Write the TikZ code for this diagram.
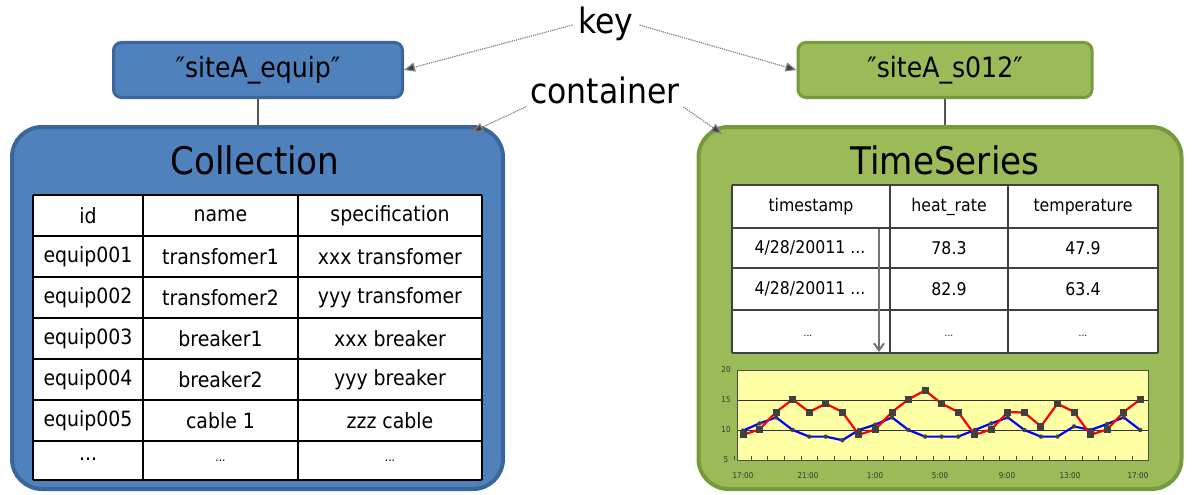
\documentclass[tikz,border=0pt]{standalone}
\usepackage{fontspec}
\setmainfont{DejaVu Sans Condensed}
\newfontfamily\tblfont{DejaVu Sans Condensed}
\usetikzlibrary{arrows.meta}
\definecolor{bfill}{HTML}{4F81BD}
\definecolor{bdraw}{HTML}{3A669C}
\definecolor{gfill}{HTML}{9BBB59}
\definecolor{gdraw}{HTML}{789A3E}
\definecolor{plotbg}{HTML}{FFFFA6}
\definecolor{linkgray}{HTML}{555555}
\definecolor{redser}{HTML}{FF0000}
\definecolor{blueser}{HTML}{0000FF}
\tikzset{
  keybox/.style={rounded corners=8pt, line width=3pt, minimum width=289pt, minimum height=55pt, inner sep=0pt, font=\fontsize{28}{28}\selectfont},
  contbox/.style={rounded corners=30pt, line width=4pt, inner sep=0pt},
  lbl/.style={inner sep=2pt, font=\fontsize{35}{35}\selectfont},
  ttl/.style={inner sep=0pt, font=\fontsize{38}{38}\selectfont},
  dotarrow/.style={densely dotted, line width=1.2pt, draw=gray, -{Triangle[length=11pt,width=9pt,fill=black!75]}},
  stem/.style={line width=2.5pt, draw=linkgray},
  cellL/.style={inner sep=0pt, font=\fontsize{21}{21}\selectfont},
  cellR/.style={inner sep=0pt, font=\tblfont\fontsize{17.5}{17.5}\selectfont},
  axlbl/.style={inner sep=0pt, font=\fontsize{8}{8}\selectfont, text=black!80},
  gridl/.style={line width=1pt, draw=black!80},
}
\begin{document}
\begin{tikzpicture}[x=1pt,y=-1pt]
\useasboundingbox (0,0) rectangle (1192,495);

% containers
\node[contbox, fill=bfill, draw=bdraw, minimum width=491pt, minimum height=362pt] (c1) at (257.5,308) {};
\node[contbox, fill=gfill, draw=gdraw, minimum width=483pt, minimum height=362pt] (c2) at (940,308) {};

% key boxes
\node[keybox, fill=bfill, draw=bdraw] (k1) at (258,70) {″siteA\_equip″};
\node[keybox, fill=gfill, draw=gdraw, minimum width=294pt] (k2) at (945,70) {″siteA\_s012″};

% stems
\draw[stem] (k1.south) -- (k1.south |- c1.north);
\draw[stem] (k2.south) -- (k2.south |- c2.north);

% labels
\node[lbl] (key) at (606,24) {key};
\node[lbl] (cont) at (605,90) {container};
\coordinate (c1tip) at (472,132);
\coordinate (c2tip) at (722,134);
\draw[dotarrow, shorten <=4pt] (key.west) -- (k1.east);
\draw[dotarrow, shorten <=4pt] (key.east) -- (k2.west);
\draw[dotarrow, shorten <=2pt] (cont.south west) -- (c1tip);
\draw[dotarrow, shorten <=2pt] (cont.south east) -- (c2tip);

% titles
\node[ttl] (t1) at (255,160) {Collection};
\node[ttl] (t2) at (945,160) {TimeSeries};

% left table
\fill[white] (33,195) rectangle (482,480);
\foreach \y in {195,236,277,318,359,400,441,480} \draw[line width=1.5pt] (33,\y) -- (482,\y);
\foreach \x in {33,143,298,482} \draw[line width=1.5pt] (\x,195) -- (\x,480);
\foreach \r/\a/\b/\c in {0/id/name/specification,
  1/equip001/transfomer1/xxx transfomer,
  2/equip002/transfomer2/yyy transfomer,
  3/equip003/breaker1/xxx breaker,
  4/equip004/breaker2/yyy breaker,
  5/equip005/cable 1/zzz cable}{
  \node[cellL] (L-\r-1) at (88,{216+41*\r}) {\a};
  \node[cellL] (L-\r-2) at (220.5,{216+41*\r}) {\b};
  \node[cellL] (L-\r-3) at (390,{216+41*\r}) {\c};
}
\node[cellL] (L-6-1) at (88,459) {...};
\node[cellL, font=\fontsize{12}{12}\selectfont] (L-6-2) at (220.5,461) {...};
\node[cellL, font=\fontsize{12}{12}\selectfont] (L-6-3) at (390,461) {...};

% right table
\fill[white] (732,185) rectangle (1158,353);
\foreach \y in {185,228,268,310,353} \draw[line width=1.8pt, draw=black!75] (732,\y) -- (1158,\y);
\foreach \x in {732,890,1008,1158} \draw[line width=1.8pt, draw=black!75] (\x,185) -- (\x,353);
\node[cellR] (R-0-1) at (811,207) {timestamp};
\node[cellR] (R-0-2) at (949,207) {heat\_rate};
\node[cellR] (R-0-3) at (1083,207) {temperature};
\node[cellR] (R-1-1) at (810,248) {4/28/20011 ...};
\node[cellR] (R-1-2) at (949,248) {78.3};
\node[cellR] (R-1-3) at (1083,248) {47.9};
\node[cellR] (R-2-1) at (810,289) {4/28/20011 ...};
\node[cellR] (R-2-2) at (949,289) {82.9};
\node[cellR] (R-2-3) at (1083,289) {63.4};
\node[cellR, font=\fontsize{10}{10}\selectfont] (R-3-1) at (808,336) {...};
\node[cellR, font=\fontsize{10}{10}\selectfont] (R-3-2) at (949,336) {...};
\node[cellR, font=\fontsize{10}{10}\selectfont] (R-3-3) at (1083,336) {...};
\coordinate (ar1) at (879,229);
\coordinate (ar2) at (879,352);
\draw[line width=2pt, draw=black!55, -{Straight Barb[length=7pt,width=10pt]}] (ar1) -- (ar2);

% chart
\fill[plotbg] (737,370) rectangle (1148,460);
\draw[gridl] (737,400) -- (1148,400);
\draw[gridl] (737,430) -- (1148,430);
\draw[line width=1pt, draw=black!70] (737,370) rectangle (1148,460);
\foreach \i in {0,...,24} \draw[line width=0.8pt, draw=black!70] ({734.7+16.55*\i},460) -- ({734.7+16.55*\i},456);
\foreach \v/\t in {20/20,15/15,10/10,5/5} \node[axlbl] (ya\t) at (726,{430-(\v-10)*6}) {\t};
\foreach \xx/\t [count=\k] in {743/17:00,808/21:00,875/1:00,940/5:00,1007/9:00,1070/13:00,1138/17:00}
  \node[axlbl] (xa\k) at (\xx,476) {\t};
% blue series
\draw[blueser, line width=2.2pt, line join=round] plot coordinates {
(743.0,430.6)(759.6,423.4)(776.1,417.4)(792.7,430.0)(809.2,436.6)(825.8,436.6)(842.3,440.2)(858.9,430.0)(875.4,424.6)(892.0,417.4)(908.5,430.0)(925.1,436.6)(941.6,436.6)(958.2,436.6)(974.7,430.0)(991.3,423.4)(1007.8,417.4)(1024.4,430.0)(1040.9,436.6)(1057.5,436.6)(1074.0,426.4)(1090.6,430.0)(1107.1,424.0)(1123.7,417.4)(1140.2,430.0)};
% red series
\draw[redser, line width=2.2pt, line join=round] plot coordinates {
(743.0,434.8)(759.6,429.4)(776.1,412.0)(792.7,399.4)(809.2,412.0)(825.8,403.6)(842.3,412.0)(858.9,434.8)(875.4,429.4)(892.0,412.0)(908.5,399.4)(925.1,390.4)(941.6,403.6)(958.2,412.0)(974.7,434.8)(991.3,429.4)(1007.8,412.0)(1024.4,412.6)(1040.9,426.4)(1057.5,403.6)(1074.0,412.0)(1090.6,434.8)(1107.1,429.4)(1123.7,412.0)(1140.2,399.4)};
\foreach \p in {(743.0,430.6),(759.6,423.4),(776.1,417.4),(792.7,430.0),(809.2,436.6),(825.8,436.6),(842.3,440.2),(858.9,430.0),(875.4,424.6),(892.0,417.4),(908.5,430.0),(925.1,436.6),(941.6,436.6),(958.2,436.6),(974.7,430.0),(991.3,423.4),(1007.8,417.4),(1024.4,430.0),(1040.9,436.6),(1057.5,436.6),(1074.0,426.4),(1090.6,430.0),(1107.1,424.0),(1123.7,417.4),(1140.2,430.0)}
  \fill[black!75] \p circle (2.2pt);
\foreach \p in {(743.0,434.8),(759.6,429.4),(776.1,412.0),(792.7,399.4),(809.2,412.0),(825.8,403.6),(842.3,412.0),(858.9,434.8),(875.4,429.4),(892.0,412.0),(908.5,399.4),(925.1,390.4),(941.6,403.6),(958.2,412.0),(974.7,434.8),(991.3,429.4),(1007.8,412.0),(1024.4,412.6),(1040.9,426.4),(1057.5,403.6),(1074.0,412.0),(1090.6,434.8),(1107.1,429.4),(1123.7,412.0),(1140.2,399.4)}
  \fill[black!75] \p ++(-3.5,-3.5) rectangle ++(7,7);
\end{tikzpicture}
\end{document}
